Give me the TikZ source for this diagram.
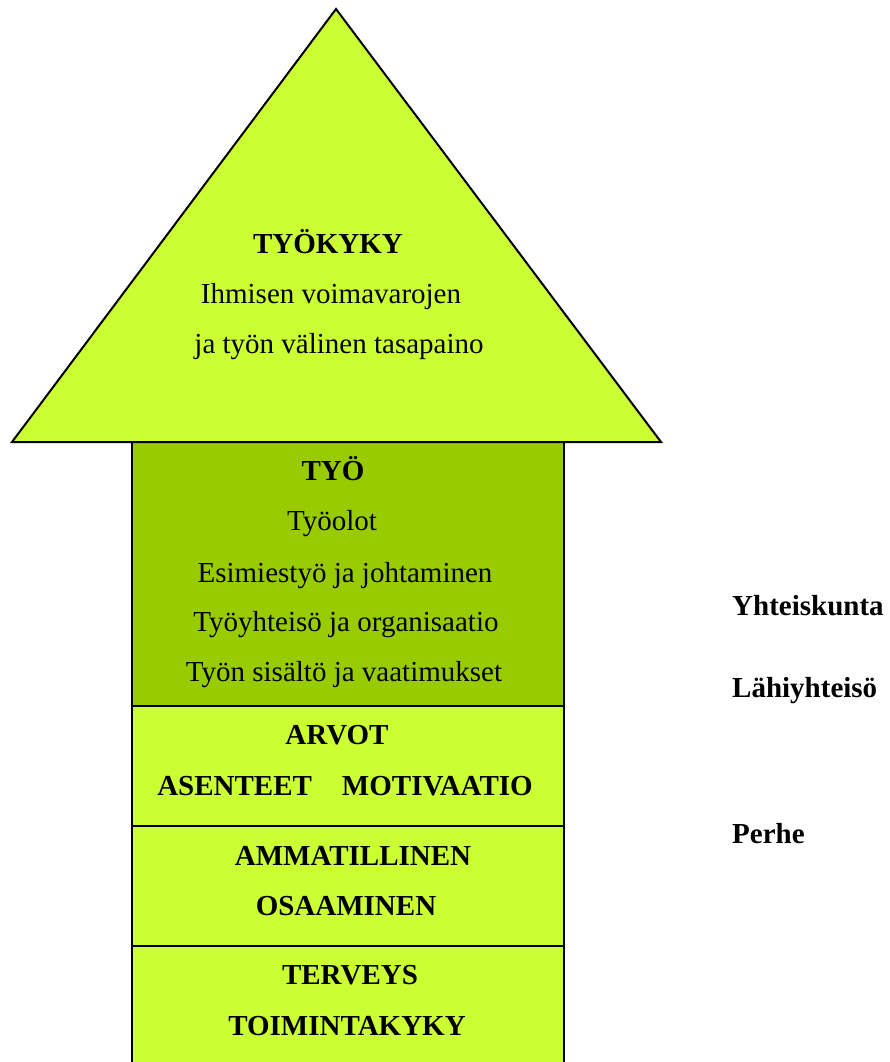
\documentclass[tikz,border=0pt]{standalone}
\usepackage{fontspec}
\setmainfont{Liberation Serif}
\definecolor{lightgreen}{HTML}{CCFF33}
\definecolor{darkgreen}{HTML}{99CC00}
\begin{document}
\begin{tikzpicture}[x=1pt,y=-1pt,
  part/.style={draw=black,line width=2pt},
  txt/.style={anchor=base,inner sep=0pt,font=\fontsize{29}{34}\selectfont},
  btxt/.style={txt,font=\fontsize{29}{34}\selectfont\bfseries},
  side/.style={anchor=base west,inner sep=0pt,font=\fontsize{29}{34}\selectfont\bfseries}]
\useasboundingbox (0,0) rectangle (890,1062);
% boxes
\fill[lightgreen] (132,946) rectangle (564,1070);
\draw[line width=2pt] (132,1070) -- (132,946) -- (564,946) -- (564,1070);
\draw[part,fill=lightgreen] (132,826) rectangle (564,946);
\draw[part,fill=lightgreen] (132,706) rectangle (564,826);
\draw[part,fill=darkgreen] (132,442) rectangle (564,706);
\draw[part,fill=lightgreen,line join=miter] (336,9) -- (661,442) -- (12,442) -- cycle;
% triangle text
\node[btxt] (tyokyky) at (328,253) {TYÖKYKY};
\node[txt] (ihmisen) at (331,303) {Ihmisen voimavarojen};
\node[txt] (tasapaino) at (339,353) {ja työn välinen tasapaino};
% TYÖ box
\node[btxt] (tyo) at (333,480) {TYÖ};
\node[txt] (tyoolot) at (332,530) {Työolot};
\node[txt] (esimies) at (345,582) {Esimiestyö ja johtaminen};
\node[txt] (yhteiso) at (346,631) {Työyhteisö ja organisaatio};
\node[txt] (sisalto) at (344,681) {Työn sisältö ja vaatimukset};
% lower boxes
\node[btxt] (arvot) at (337,744) {ARVOT};
\node[btxt] (asenteet) at (345,795) {ASENTEET\hspace{30pt}MOTIVAATIO};
\node[btxt] (ammat) at (353,865) {AMMATILLINEN};
\node[btxt] (osaam) at (346,915) {OSAAMINEN};
\node[btxt] (terveys) at (350,984) {TERVEYS};
\node[btxt] (toiminta) at (347,1035) {TOIMINTAKYKY};
% side labels
\node[side] (yhteiskunta) at (732,615) {Yhteiskunta};
\node[side] (lahi) at (732,697) {Lähiyhteisö};
\node[side] (perhe) at (732,843) {Perhe};
\end{tikzpicture}
\end{document}
